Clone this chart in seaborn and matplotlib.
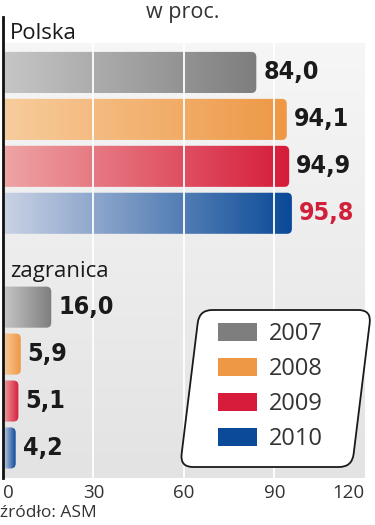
import numpy as np
import pandas as pd
import seaborn as sns
import matplotlib.pyplot as plt
from matplotlib.colors import LinearSegmentedColormap
from matplotlib.patches import Patch, FancyBboxPatch
from matplotlib.transforms import Affine2D

# data
groups = ["Polska", "zagranica"]
years = ["2007", "2008", "2009", "2010"]
polska = [84.0, 94.1, 94.9, 95.8]
zagranica = [16.0, 5.9, 5.1, 4.2]
xticks = [0, 30, 60, 90, 120]

# light -> dark gradient for each year
grad_left = ["#c6c6c6", "#f7cc9c", "#eea4a4", "#cad2e4"]
grad_right = ["#7e7e7e", "#ee9846", "#d61c3a", "#0a4a98"]

df = pd.DataFrame({
    "grupa": np.repeat(groups, len(years)),
    "rok": years * len(groups),
    "wartosc": polska + zagranica,
})

sns.set_theme(style="white")
plt.rcParams["font.family"] = ["Open Sans", "DejaVu Sans"]

fig = plt.figure(figsize=(3.75, 5.25), dpi=100)
ax = fig.add_axes([0.008, 0.0895, 0.965, 0.878])

sns.barplot(data=df, y="grupa", x="wartosc", hue="rok", hue_order=years,
            palette=grad_right, orient="h", width=0.8, gap=0.125,
            legend=False, ax=ax, zorder=2)

ax.set_xlim(0, 120)
ax.set_ylim(1.428, -0.536)
ax.set_facecolor("none")

# background: vertical light-gray gradient
bg = LinearSegmentedColormap.from_list("bg", ["#f6f6f6", "#e3e3e3"])
ax.imshow(np.linspace(0, 1, 100).reshape(-1, 1), cmap=bg, aspect="auto",
          extent=(0, 120, 1.428, -0.425), zorder=0)

# gradient fill for every bar, clipped to a rounded shape (in inches)
to_in = ax.transData + fig.dpi_scale_trans.inverted()
for cont, c0, c1 in zip(ax.containers, grad_left, grad_right):
    cmap = LinearSegmentedColormap.from_list("g", [c0, c1])
    for bar in cont:
        x0, y0 = bar.get_x(), bar.get_y()
        w, h = bar.get_width(), bar.get_height()
        (ix0, iy0), (ix1, iy1) = to_in.transform([(x0, y0 + h), (x0 + w, y0)])
        shape = FancyBboxPatch((ix0 - 0.1, iy0), ix1 - ix0 + 0.1, iy1 - iy0,
                               boxstyle="round,pad=0,rounding_size=0.05",
                               transform=fig.dpi_scale_trans)
        im = ax.imshow(np.linspace(0, 1, 100).reshape(1, -1), cmap=cmap,
                       aspect="auto", extent=(x0, x0 + w, y0 + h, y0),
                       zorder=2.1)
        im.set_clip_path(shape)
        bar.set_facecolor("none")
        bar.set_edgecolor("none")

# white grid lines over the bars
for v in xticks[1:-1]:
    ax.axvline(v, color="white", lw=1.3, zorder=3)

# value labels
for cont, vals in zip(ax.containers, zip(polska, zagranica)):
    for bar, v in zip(cont, vals):
        col = "#d0203a" if v == 95.8 else "#1a1a1a"
        ax.text(v + 2.3, bar.get_y() + bar.get_height() / 2,
                f"{v:.1f}".replace(".", ","), ha="left", va="center",
                fontsize=18, fontweight="bold", color=col,
                family="DejaVu Sans", fontstretch="condensed", zorder=4)

ax.text(2.3, -0.467, "Polska", fontsize=16, va="center", ha="left", color="#1a1a1a")
ax.text(2.3, 0.546, "zagranica", fontsize=16, va="center", ha="left", color="#1a1a1a")

ax.set_xticks(xticks)
ax.set_xticklabels([str(t) for t in xticks], fontsize=13.5, color="#333333")
ax.tick_params(axis="x", length=0, pad=4)
labs = ax.get_xticklabels()
labs[0].set_horizontalalignment("left")
labs[-1].set_horizontalalignment("right")
ax.set_yticks([])
ax.set_xlabel("")
ax.set_ylabel("")
for s in ["top", "right", "bottom"]:
    ax.spines[s].set_visible(False)
ax.spines["left"].set_color("#111111")
ax.spines["left"].set_linewidth(2)

# slanted rounded legend box (inches, sheared)
box = FancyBboxPatch((1.729, 0.58), 1.72, 1.57,
                     boxstyle="round,pad=0,rounding_size=0.13",
                     transform=Affine2D().skew_deg(7, 0) + fig.dpi_scale_trans,
                     facecolor="white", edgecolor="#1a1a1a", lw=1.3, zorder=5)
fig.patches.append(box)

handles = [Patch(facecolor=c, edgecolor="none") for c in grad_right]
leg = fig.legend(handles, years, loc="upper left",
                 bbox_to_anchor=(218 / 375, 1 - 322 / 525),
                 fontsize=17, frameon=False, handlelength=1.65,
                 handleheight=0.8, borderpad=0, borderaxespad=0,
                 labelspacing=0.47, handletextpad=0.5)
leg.set_zorder(6)
for t in leg.get_texts():
    t.set_color("#333333")

fig.text(0.488, 0.977, "w proc.", fontsize=15.5, ha="center", va="center", color="#333333")
fig.text(0.0, 0.022, "źródło: ASM", fontsize=12.5, ha="left", va="center", color="#333333")

fig.savefig("out.png", dpi=100)
